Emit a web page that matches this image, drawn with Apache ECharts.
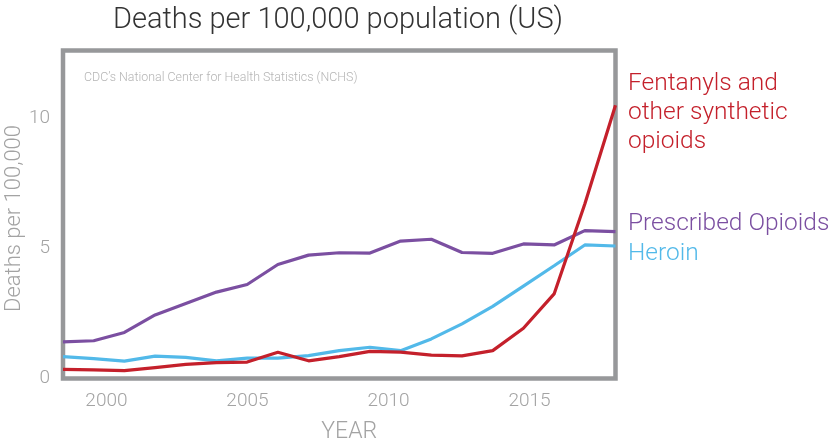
<!DOCTYPE html>
<html>
<head>
<meta charset="utf-8">
<script src="https://cdn.jsdelivr.net/npm/echarts@6/dist/echarts.min.js"></script>
<style>
html,body{margin:0;padding:0;background:#fff;}
#chart{width:836px;height:444px;}
</style>
</head>
<body>
<div id="chart"></div>
<script>
const years = ['1999','2000','2001','2002','2003','2004','2005','2006','2007','2008','2009','2010','2011','2012','2013','2014','2015','2016','2017'];
const fentanyl   = [0.35,0.33,0.30,0.42,0.54,0.61,0.63,1.01,0.68,0.84,1.04,1.01,0.90,0.87,1.07,1.93,3.25,6.70,10.50];
const prescribed = [1.41,1.45,1.77,2.44,2.88,3.32,3.61,4.38,4.74,4.83,4.82,5.28,5.35,4.84,4.81,5.17,5.13,5.68,5.64];
const heroin     = [0.84,0.76,0.67,0.86,0.81,0.68,0.78,0.78,0.88,1.07,1.20,1.07,1.52,2.10,2.77,3.55,4.33,5.13,5.09];
const xTickYears = [2000,2005,2010,2015];
const seriesNames = ['Fentanyls and\nother synthetic\nopioids','Prescribed Opioids','Heroin'];
const titleText = 'Deaths per 100,000 population (US)';
const sourceText = "CDC\u2019s National Center for Health Statistics (NCHS)";

const FONT = 'Roboto, "Liberation Sans", sans-serif';
const RED = '#c4202b', PURPLE = '#7b4fa1', BLUE = '#52b9e9';
const GRAY = '#a3a3a3';

const chart = echarts.init(document.getElementById('chart'), null, {renderer:'canvas'});
chart.setOption({
  animation: false,
  title: {
    text: titleText, left: 333, top: 1, textAlign: 'center',
    textStyle: {fontFamily: FONT, fontWeight: 300, fontSize: 29, color: '#333'}
  },
  grid: {left: 63, right: 220.5, top: 50.5, bottom: 65.5, show: true, outerBoundsMode: 'none', containLabel: false,
         borderColor: '#97989a', borderWidth: 4.5, backgroundColor: 'transparent'},
  xAxis: [{
    type: 'value', min: 1998.46, max: 2018.05, position: 'bottom',
    name: 'YEAR', nameLocation: 'middle', nameGap: 42,
    nameTextStyle: {fontFamily: FONT, fontWeight: 300, fontSize: 23, color: GRAY, padding: [0,0,0,20]},
    axisLine: {show: false}, axisTick: {show: false}, splitLine: {show: false},
    axisLabel: {customValues: xTickYears, formatter: v => String(v), margin: 13,
      fontFamily: FONT, fontWeight: 300, fontSize: 19, color: GRAY}
  }, {
    type: 'category', data: years, boundaryGap: false, show: false, position: 'top'
  }],
  yAxis: {
    type: 'value', min: 0, max: 12.6, interval: 5,
    name: 'Deaths per 100,000', nameLocation: 'middle', nameGap: 38, nameRotate: 90, nameMoveOverlap: false,
    nameTextStyle: {fontFamily: FONT, fontWeight: 300, fontSize: 22, color: GRAY, padding: [0,8,0,0]},
    axisLine: {show: false}, axisTick: {show: false}, splitLine: {show: false},
    axisLabel: {margin: 13, showMaxLabel: false, fontFamily: FONT, fontWeight: 300, fontSize: 19, color: GRAY}
  },
  series: [
    {name: seriesNames[1], type: 'line', xAxisIndex: 1, data: prescribed, symbol: 'none',
     lineStyle: {color: PURPLE, width: 3.2}, itemStyle: {color: PURPLE}},
    {name: seriesNames[2], type: 'line', xAxisIndex: 1, data: heroin, symbol: 'none',
     lineStyle: {color: BLUE, width: 3.2}, itemStyle: {color: BLUE}},
    {name: seriesNames[0], type: 'line', xAxisIndex: 1, data: fentanyl, symbol: 'none',
     lineStyle: {color: RED, width: 3.2}, itemStyle: {color: RED}}
  ],
  graphic: [
    {type: 'text', left: 84, top: 72, style: {text: sourceText, fill: '#b5b5b5',
      font: '300 12.4px ' + FONT}},
    {type: 'text', left: 628, top: 69, style: {text: seriesNames[0], fill: RED, lineHeight: 29,
      font: '300 24.5px ' + FONT}},
    {type: 'text', left: 628, top: 211, style: {text: seriesNames[1], fill: PURPLE, font: '300 24.5px ' + FONT}},
    {type: 'text', left: 628, top: 241, style: {text: seriesNames[2], fill: BLUE, font: '300 24.5px ' + FONT}}
  ]
});
</script>
</body>
</html>
